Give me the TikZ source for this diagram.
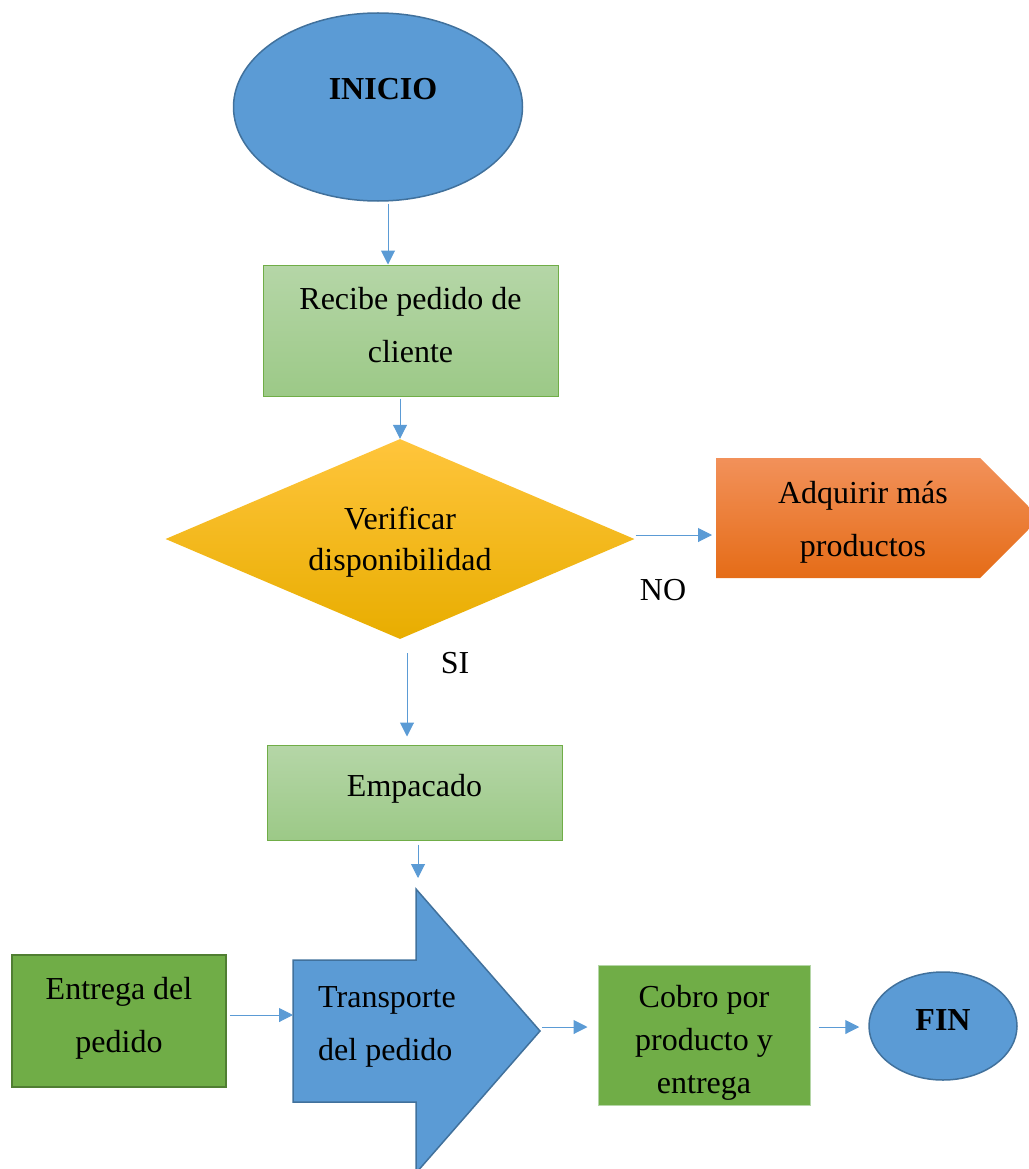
\documentclass[tikz,border=0pt]{standalone}
\usepackage{fontspec}
\setmainfont{Liberation Serif}
\usetikzlibrary{shapes.geometric,arrows.meta}

\definecolor{azul}{HTML}{5B9BD5}
\definecolor{azulborde}{HTML}{41719C}
\definecolor{verdeclaroA}{HTML}{B5D6A7}
\definecolor{verdeclaroB}{HTML}{9CC987}
\definecolor{verdeborde}{HTML}{70AD47}
\definecolor{verde}{HTML}{70AD47}
\definecolor{verdeoscuro}{HTML}{507E32}
\definecolor{amarilloA}{HTML}{FFC53C}
\definecolor{amarilloB}{HTML}{FFC000}
\definecolor{amarilloC}{HTML}{E8AD00}
\definecolor{naranjaA}{HTML}{F2915A}
\definecolor{naranjaB}{HTML}{F47D2C}
\definecolor{naranjaC}{HTML}{E56C17}

\tikzset{
  flecha/.style={draw=azul,line width=1pt,-{Triangle[width=14pt,length=14pt]}},
  cajaclara/.style={rectangle,draw=verdeborde,line width=1pt,
    top color=verdeclaroA,bottom color=verdeclaroB},
  cajaverde/.style={rectangle,fill=verde,line width=1.5pt},
  terminal/.style={ellipse,fill=azul,draw=azulborde,line width=1.5pt}
}

\begin{document}
\begin{tikzpicture}[x=1pt,y=-1pt,font=\fontsize{32}{53}\selectfont]
  \useasboundingbox (0,0) rectangle (1028,1169);

  % figuras sin nodo
  \path[top color=naranjaA,middle color=naranjaB,bottom color=naranjaC]
    (716,458) -- (980,458) -- (1040,518) -- (980,578) -- (716,578) -- cycle;
  \draw[azulborde,fill=azul,line width=1.5pt]
    (293,960) -- (416,960) -- (416,889) -- (540,1031) -- (416,1173)
    -- (416,1102) -- (293,1102) -- cycle;
  \coordinate (cuello) at (416,889);
  \coordinate (cola)   at (293,1015);
  \coordinate (punta)  at (540,1027);
  \coordinate (nadq)   at (712,535);

  \begin{scope}[every node/.style={align=center,inner sep=0pt}]
    \node[terminal,minimum width=289pt,minimum height=188pt] (inicio) at (378,107) {};
    \node[font=\fontsize{32}{38}\selectfont\bfseries] (tinicio) at (383,89) {INICIO};
    \node[cajaclara,minimum width=295pt,minimum height=131pt] (recibe) at (410.5,330.5) {};
    \node (trecibe) at (410.5,325) {Recibe pedido de\\cliente};
    \node[diamond,minimum width=469pt,minimum height=200pt,shape aspect=2.345,
      top color=amarilloA,middle color=amarilloB,bottom color=amarilloC] (verificar) at (400,539) {};
    \node[font=\fontsize{32}{41}\selectfont] (tverificar) at (400,542) {Verificar\\disponibilidad};
    \node (adquirir) at (863,522) {Adquirir más\\productos};
    \node (no) at (663,590) {NO};
    \node (si) at (455,663) {SI};
    \node[cajaclara,minimum width=295pt,minimum height=95pt] (empacado) at (414.5,792.5) {};
    \node (tempacado) at (414.5,789) {Empacado};
    \node[anchor=west,align=left] (transporte) at (318,1027) {Transporte\\del pedido};
    \node[cajaverde,draw=verdeoscuro,minimum width=214pt,minimum height=132pt] (entrega) at (119,1021) {};
    \node (tentrega) at (119,1018) {Entrega del\\pedido};
    \node[cajaverde,draw=verdeclaroA,line width=1pt,minimum width=212pt,minimum height=140pt] (cobro) at (704,1035) {};
    \node[font=\fontsize{32}{43}\selectfont] (tcobro) at (704,1043) {Cobro por\\producto y\\entrega};
    \node[terminal,minimum width=148pt,minimum height=108pt] (fin) at (943,1026) {};
    \node[font=\fontsize{32}{38}\selectfont\bfseries] (tfin) at (943,1020) {FIN};
  \end{scope}

  \begin{scope}[every edge/.style={flecha}]
    \path ([xshift=10pt,yshift=-2pt]inicio.south) edge ([xshift=-22.5pt]recibe.north);
    \path ([xshift=-10.5pt,yshift=-2pt]recibe.south) edge (verificar.north);
    \path ([xshift=1pt,yshift=4pt]verificar.east) edge (nadq);
    \path ([xshift=7pt,yshift=-14pt]verificar.south) edge ([xshift=-7.5pt,yshift=8pt]empacado.north);
    \path ([xshift=3.5pt,yshift=-4pt]empacado.south) edge ([xshift=2pt,yshift=11pt]cuello);
    \path ([xshift=3pt,yshift=6pt]entrega.east) edge (cola);
    \path ([xshift=2pt]punta) edge ([xshift=-10pt,yshift=8pt]cobro.west);
    \path ([xshift=8pt,yshift=8pt]cobro.east) edge ([xshift=-9pt,yshift=-1pt]fin.west);
  \end{scope}

\end{tikzpicture}
\end{document}
